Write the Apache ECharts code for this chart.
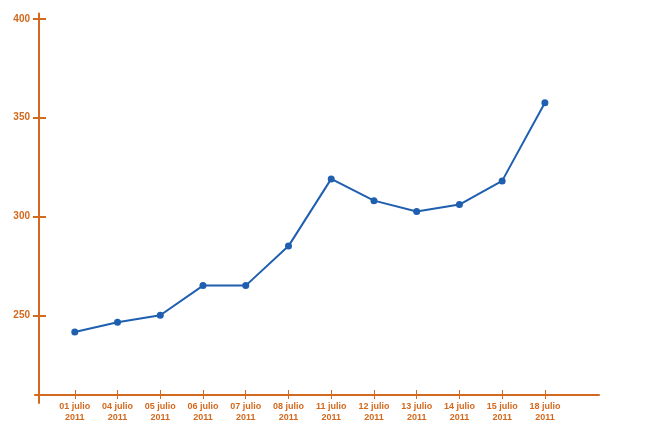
<!DOCTYPE html>
<html>
<head>
<meta charset="utf-8">
<script src="https://cdn.jsdelivr.net/npm/echarts@6/dist/echarts.min.js"></script>
<style>html,body{margin:0;padding:0;background:#fff}#c{width:655px;height:437px}</style>
</head>
<body>
<div id="c"></div>
<script>
const categories = ['01 julio\n2011','04 julio\n2011','05 julio\n2011','06 julio\n2011','07 julio\n2011','08 julio\n2011','11 julio\n2011','12 julio\n2011','13 julio\n2011','14 julio\n2011','15 julio\n2011','18 julio\n2011'];
const values = [241.5, 246.5, 250, 265, 265, 285, 319, 308, 302.5, 306, 318, 357.5];
const yTicks = [250, 300, 350, 400];

const C = '#d2691e';
const B = '#1f5fb0';
const idx = categories.map((c, i) => i);
const font = '"Liberation Sans", Arial, sans-serif';

const chart = echarts.init(document.getElementById('c'), null, {renderer: 'canvas'});
const xBase = {
  type: 'value', min: -0.931, max: 12.266, position: 'bottom', offset: -8,
  splitLine: {show: false}
};
const yBase = {
  type: 'value', min: 205.6, max: 402.7, position: 'left', offset: -4,
  splitLine: {show: false}
};
chart.setOption({
  animation: false,
  grid: {left: 35, right: 56, top: 13.5, bottom: 34},
  xAxis: [
    Object.assign({}, xBase, {
      axisLine: {show: true, onZero: false, lineStyle: {color: C, width: 2}},
      axisTick: {show: true, customValues: idx, length: 4, lineStyle: {color: C, width: 1}},
      axisLabel: {
        customValues: idx, formatter: v => categories[Math.round(v)],
        color: C, fontFamily: font, fontWeight: 'bold', fontSize: 9, lineHeight: 11, margin: 6
      }
    }),
    Object.assign({}, xBase, {
      axisLine: {show: false, onZero: false},
      axisTick: {show: true, inside: true, customValues: idx, length: 5, lineStyle: {color: C, width: 1}},
      axisLabel: {show: false}
    })
  ],
  yAxis: [
    Object.assign({}, yBase, {
      axisLine: {show: true, onZero: false, lineStyle: {color: C, width: 2}},
      axisTick: {show: true, customValues: yTicks, length: 6, lineStyle: {color: C, width: 2}},
      axisLabel: {
        customValues: yTicks, color: C, fontFamily: font, fontWeight: 'bold', fontSize: 10, margin: 9
      }
    }),
    Object.assign({}, yBase, {
      axisLine: {show: false, onZero: false},
      axisTick: {show: true, inside: true, customValues: yTicks, length: 7, lineStyle: {color: C, width: 2}},
      axisLabel: {show: false}
    })
  ],
  series: [{
    type: 'line',
    xAxisIndex: 0, yAxisIndex: 0,
    data: values.map((v, i) => [i, v]),
    symbol: 'circle', symbolSize: 7,
    lineStyle: {color: B, width: 2},
    itemStyle: {color: B},
    z: 3
  }]
});
</script>
</body>
</html>
